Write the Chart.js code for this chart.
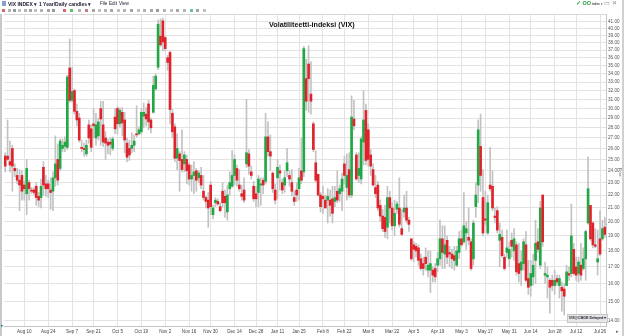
<!DOCTYPE html>
<html><head><meta charset="utf-8">
<script src="https://cdn.jsdelivr.net/npm/chart.js@4.4.0/dist/chart.umd.min.js"></script>
<style>
html,body{margin:0;padding:0;background:#fff;}
#wrap{position:relative;width:624px;height:336px;overflow:hidden;font-family:"Liberation Sans",Arial,sans-serif;background:#fff;}
canvas{position:absolute;left:0;top:0;}
.t{position:absolute;white-space:nowrap;color:#1a1a2e;line-height:1;}
.b{font-weight:bold;}
.ic{position:absolute;width:3px;height:3px;background:#999;}
#title{position:absolute;white-space:nowrap;line-height:1;left:269px;top:21px;font-size:7.2px;font-weight:bold;color:#111;}
#lframe{position:absolute;left:0;top:14px;width:2px;height:322px;background:#c8c8c8;}
#rframe{position:absolute;left:622px;top:0;width:2px;height:336px;background:#d0d0d0;}
#topline{position:absolute;left:4px;top:14px;width:602px;height:1px;background:#d8d8d8;}
#src{position:absolute;left:567px;top:314px;width:39px;height:7px;background:#e6e6e6;border:1px solid #c4c4c4;font-size:3.6px;font-weight:bold;color:#223;line-height:7px;text-align:center;white-space:nowrap;}
#price{position:absolute;left:621px;top:168px;font-size:3.8px;line-height:1;color:#555;transform:rotate(90deg);transform-origin:left top;white-space:nowrap;}
</style></head><body>
<div id="wrap">
<canvas id="c" width="624" height="336"></canvas>
<div id="lframe"></div><div id="rframe"></div><div id="topline"></div>
<div class="t" style="left:2px;top:1px;width:4px;height:5px;background:#8aa0c8;"></div>
<div class="t b" style="left:8px;top:1.5px;font-size:5px;">VIX INDEX ▾</div>
<div class="t b" style="left:39px;top:1.5px;font-size:5px;">1 Year/Daily candles ▾</div>
<div class="t" style="left:100px;top:1.5px;font-size:4.6px;">File</div>
<div class="t" style="left:109px;top:1.5px;font-size:4.6px;">Edit</div>
<div class="t" style="left:119px;top:1.5px;font-size:4.6px;">View</div>
<div class="t b" style="left:576px;top:1px;font-size:5.5px;color:#2a9a3a;">✓ OO<span style="font-size:3px;color:#444"> index ▾</span></div>
<div class="t" style="left:604px;top:0px;font-size:6px;color:#888;">▭ ✕</div>
<div id="icons"></div>
<div id="title">Volatiliteetti-indeksi (VIX)</div>
<div id="src">VIX@CBOE Delayed ▾</div>
<div id="price">Price</div>
<div class="t" style="left:1px;top:323px;font-size:5px;color:#2a8aa0;">▸</div>
<div class="t" style="left:616px;top:329px;font-size:5px;color:#666;">▸</div>
</div>
<script>
// Trading days shown (category axis)
const dates = ['Jul 29','Jul 30','Jul 31',
'Aug 3','Aug 4','Aug 5','Aug 6','Aug 7','Aug 10','Aug 11','Aug 12','Aug 13','Aug 14','Aug 17','Aug 18','Aug 19','Aug 20','Aug 21','Aug 24','Aug 25','Aug 26','Aug 27','Aug 28','Aug 31',
'Sep 1','Sep 2','Sep 3','Sep 4','Sep 8','Sep 9','Sep 10','Sep 11','Sep 14','Sep 15','Sep 16','Sep 17','Sep 18','Sep 21','Sep 22','Sep 23','Sep 24','Sep 25','Sep 28','Sep 29','Sep 30',
'Oct 1','Oct 2','Oct 5','Oct 6','Oct 7','Oct 8','Oct 9','Oct 12','Oct 13','Oct 14','Oct 15','Oct 16','Oct 19','Oct 20','Oct 21','Oct 22','Oct 23','Oct 26','Oct 27','Oct 28','Oct 29','Oct 30',
'Nov 2','Nov 3','Nov 4','Nov 5','Nov 6','Nov 9','Nov 10','Nov 11','Nov 12','Nov 13','Nov 16','Nov 17','Nov 18','Nov 19','Nov 20','Nov 23','Nov 24','Nov 25','Nov 27','Nov 30',
'Dec 1','Dec 2','Dec 3','Dec 4','Dec 7','Dec 8','Dec 9','Dec 10','Dec 11','Dec 14','Dec 15','Dec 16','Dec 17','Dec 18','Dec 21','Dec 22','Dec 23','Dec 24','Dec 28','Dec 29','Dec 30','Dec 31',
'Jan 4','Jan 5','Jan 6','Jan 7','Jan 8','Jan 11','Jan 12','Jan 13','Jan 14','Jan 15','Jan 19','Jan 20','Jan 21','Jan 22','Jan 25','Jan 26','Jan 27','Jan 28','Jan 29',
'Feb 1','Feb 2','Feb 3','Feb 4','Feb 5','Feb 8','Feb 9','Feb 10','Feb 11','Feb 12','Feb 16','Feb 17','Feb 18','Feb 19','Feb 22','Feb 23','Feb 24','Feb 25','Feb 26',
'Mar 1','Mar 2','Mar 3','Mar 4','Mar 5','Mar 8','Mar 9','Mar 10','Mar 11','Mar 12','Mar 15','Mar 16','Mar 17','Mar 18','Mar 19','Mar 22','Mar 23','Mar 24','Mar 25','Mar 26','Mar 29','Mar 30','Mar 31',
'Apr 1','Apr 5','Apr 6','Apr 7','Apr 8','Apr 9','Apr 12','Apr 13','Apr 14','Apr 15','Apr 16','Apr 19','Apr 20','Apr 21','Apr 22','Apr 23','Apr 26','Apr 27','Apr 28','Apr 29','Apr 30',
'May 3','May 4','May 5','May 6','May 7','May 10','May 11','May 12','May 13','May 14','May 17','May 18','May 19','May 20','May 21','May 24','May 25','May 26','May 27','May 28',
'Jun 1','Jun 2','Jun 3','Jun 4','Jun 7','Jun 8','Jun 9','Jun 10','Jun 11','Jun 14','Jun 15','Jun 16','Jun 17','Jun 18','Jun 21','Jun 22','Jun 23','Jun 24','Jun 25','Jun 28','Jun 29','Jun 30',
'Jul 1','Jul 2','Jul 6','Jul 7','Jul 8','Jul 9','Jul 12','Jul 13','Jul 14','Jul 15','Jul 16','Jul 19','Jul 20','Jul 21','Jul 22','Jul 23','Jul 26','Jul 27','Jul 28'];

const openV = [25.3,25.3,24.8,
26.0,24.2,23.6,23.2,23.6,22.8,22.1,23.0,22.4,22.4,22.7,21.9,21.8,24.3,22.9,22.9,22.4,22.3,23.4,25.0,24.2,
26.0,26.2,26.1,34.7,30.9,32.0,29.7,29.0,26.1,26.0,25.5,28.3,27.9,28.4,27.0,27.2,30.0,28.3,27.0,26.6,26.6,
26.0,29.1,30.0,28.4,29.6,28.8,26.5,26.0,26.0,26.3,27.4,27.4,27.6,29.2,29.4,30.5,28.8,29.6,32.2,34.8,38.9,41.1,
38.7,36.0,36.7,29.5,28.1,25.1,25.5,25.0,24.6,25.0,24.5,23.3,23.6,24.0,23.4,23.6,22.3,21.8,21.6,22.8,
20.5,21.4,21.5,21.1,22.3,21.9,20.7,22.5,22.7,23.6,24.2,22.8,22.1,22.4,24.6,25.5,23.9,22.7,22.1,22.2,22.8,23.2,
23.1,27.1,25.7,23.8,22.4,23.4,24.0,23.0,22.8,24.0,23.6,23.0,21.8,22.4,22.5,24.0,23.9,33.4,35.2,
31.6,28.4,24.7,23.7,22.0,21.9,21.6,21.6,21.6,21.7,21.5,22.3,22.1,22.3,24.6,22.6,24.1,22.0,28.9,
25.4,23.6,23.3,26.6,29.8,27.8,25.4,24.1,22.6,22.8,21.2,20.4,20.3,19.6,21.8,21.0,19.7,20.9,21.0,19.5,20.7,21.0,20.1,
18.8,18.4,18.3,18.2,17.5,17.2,17.6,16.8,16.8,16.8,16.9,17.1,17.5,18.8,17.8,18.7,17.9,17.8,17.7,17.1,17.9,
18.8,18.6,19.2,18.9,18.6,17.5,21.1,22.8,26.2,21.8,20.2,19.2,22.8,22.7,20.4,20.8,18.7,18.9,17.6,17.9,
17.5,18.7,18.0,18.4,17.2,16.8,17.2,18.4,16.3,15.9,16.4,17.4,18.6,17.1,22.0,16.5,16.4,16.2,16.2,15.9,16.3,15.9,
15.8,15.7,15.9,16.6,16.6,18.1,17.0,16.6,17.1,16.9,17.5,19.9,21.2,19.9,18.4,17.3,18.8,18.8,19.6];

const highV = [25.6,28.8,26.7,
26.3,24.6,24.2,24.1,24.0,23.1,25.0,23.2,22.6,22.6,23.0,22.2,23.3,24.8,23.6,23.2,23.4,23.9,27.2,26.4,26.9,
26.9,27.1,33.8,38.5,34.8,32.2,30.5,29.5,26.8,26.5,26.8,28.8,28.3,30.0,29.5,29.0,30.8,30.8,27.6,26.9,27.0,
27.1,30.0,30.2,30.1,30.1,29.6,27.0,26.8,27.5,27.3,30.3,28.1,30.0,30.6,30.1,30.9,29.0,33.7,34.0,41.2,41.4,41.5,
38.9,36.3,36.9,29.9,28.4,27.4,25.7,27.8,25.7,25.4,24.7,24.5,24.8,24.2,24.0,24.3,23.6,21.9,22.2,23.1,
21.2,21.8,21.7,21.4,23.0,22.4,22.8,23.9,25.8,25.4,24.5,24.1,22.8,23.4,31.0,25.9,24.4,23.1,22.7,23.6,23.4,23.4,
29.5,28.6,27.3,23.9,22.9,25.0,24.5,23.3,24.0,26.0,24.0,24.1,22.3,23.0,24.2,27.0,37.5,35.8,37.6,
35.5,28.6,25.8,23.7,22.2,22.7,22.0,22.5,22.4,22.7,22.7,24.0,22.8,23.8,25.3,25.5,25.6,31.4,30.9,
25.6,25.6,27.1,32.0,30.5,28.4,25.9,24.6,23.6,23.1,21.6,20.9,21.2,22.7,22.3,21.4,21.6,21.5,23.4,20.9,22.0,22.3,20.3,
18.8,18.6,18.5,18.4,17.8,17.6,18.2,18.0,18.0,17.0,17.2,17.9,20.1,19.7,19.7,19.0,18.3,18.1,18.3,18.3,19.3,
19.4,22.2,20.0,21.0,18.8,20.1,23.0,28.8,29.4,24.1,22.3,22.0,26.1,24.0,21.0,21.1,19.9,19.4,17.8,19.4,
18.6,19.2,19.5,18.6,18.5,18.0,18.8,19.3,17.4,17.4,17.8,20.1,19.5,21.5,22.0,17.3,17.0,16.3,16.5,16.8,16.5,16.5,
16.1,16.0,17.1,17.0,21.3,18.5,17.6,17.6,18.5,18.2,19.4,25.2,21.2,20.0,19.5,19.4,20.8,20.1,20.3];

const lowV = [23.9,24.9,23.9,
22.3,23.5,22.9,20.8,21.6,21.6,20.5,21.6,22.1,22.0,21.2,21.1,21.0,22.0,21.9,21.8,20.9,20.8,22.7,22.8,24.0,
25.7,25.7,25.9,30.7,30.7,29.4,28.2,26.6,25.7,25.3,25.3,26.5,25.7,27.0,26.3,26.8,26.3,26.2,25.0,25.5,25.4,
25.8,27.4,27.4,28.1,27.2,25.6,24.8,24.9,25.6,25.7,27.1,27.3,27.4,28.0,28.2,27.8,27.5,29.5,32.0,34.5,37.5,36.9,
36.9,34.4,28.4,27.0,24.8,24.1,22.3,23.9,23.9,22.9,22.8,22.3,22.1,22.3,23.0,22.5,21.6,21.0,19.6,20.5,
20.2,21.1,21.2,20.7,21.1,20.3,20.1,22.0,22.6,22.8,22.7,22.3,21.6,21.4,24.3,23.7,23.3,21.5,21.1,21.1,21.2,22.1,
22.9,25.3,24.0,22.2,21.3,21.7,22.4,22.1,22.2,23.5,22.7,21.9,21.2,21.5,21.6,22.9,23.5,29.8,29.6,
29.4,25.7,23.0,21.9,20.7,20.6,21.0,19.9,20.4,19.9,21.1,21.4,21.5,20.8,22.9,21.6,21.8,21.8,27.8,
23.2,23.0,22.9,24.5,24.5,24.4,23.6,22.7,21.8,20.8,20.0,19.3,18.9,18.8,19.9,19.4,19.0,20.6,19.6,19.0,20.3,19.9,19.3,
17.4,17.3,17.6,17.1,16.8,16.5,16.8,16.4,15.5,16.1,16.1,16.7,17.1,16.9,16.9,17.2,17.0,16.9,16.8,17.0,17.5,
18.3,18.5,18.1,18.4,16.8,17.1,20.3,21.4,22.3,19.0,19.8,19.1,22.3,20.8,19.9,19.2,17.0,17.6,16.8,17.6,
17.0,17.6,17.4,16.5,16.1,15.9,16.8,16.1,15.4,15.3,15.9,16.0,17.9,16.9,18.3,16.0,15.2,14.4,15.6,15.4,15.9,15.2,
14.5,14.3,15.9,16.2,16.4,16.5,16.2,16.1,16.2,16.8,16.2,19.8,18.7,18.2,18.2,16.5,17.7,18.7,18.9];

const closeV = [24.4,25.0,24.5,
24.4,24.0,23.2,22.8,22.3,22.5,24.2,22.5,22.3,22.2,21.8,21.6,22.7,22.8,22.5,22.5,22.2,23.4,24.6,23.2,26.7,
26.3,26.6,33.6,30.9,31.9,29.7,28.8,26.8,26.0,25.9,26.3,27.0,26.1,28.2,28.3,28.6,28.9,26.6,26.5,26.3,26.4,
26.9,27.9,28.4,29.8,28.5,26.8,25.2,25.4,26.3,26.7,27.3,27.8,29.6,29.6,28.9,28.6,28.0,32.6,33.7,40.6,37.7,38.1,
37.2,35.4,29.9,27.6,25.1,26.0,24.9,24.1,25.4,24.0,23.3,23.6,23.9,23.2,23.8,22.8,21.8,21.5,21.0,21.1,
21.0,21.6,21.3,20.8,21.4,21.4,22.0,23.0,23.6,25.0,23.2,22.5,21.9,21.6,25.6,24.4,23.6,21.7,21.7,23.3,22.9,22.8,
27.1,25.7,25.3,22.5,21.6,24.3,23.8,22.4,23.4,24.7,23.3,22.3,21.5,22.0,23.4,23.2,37.2,30.8,33.4,
30.8,25.9,23.2,22.0,21.1,21.7,21.0,21.9,21.2,20.6,21.8,21.6,22.5,23.3,23.6,23.6,22.0,29.1,28.2,
23.3,24.2,26.9,28.8,24.9,25.0,24.4,22.8,22.1,21.0,20.4,19.5,19.3,21.8,21.0,19.7,20.6,21.3,19.8,19.1,21.0,20.1,19.8,
17.5,18.1,18.0,17.4,16.9,16.9,17.2,17.1,17.2,16.5,16.4,17.5,18.8,17.9,18.4,17.6,17.8,17.5,17.4,18.0,18.8,
18.4,19.7,19.5,18.7,16.9,19.9,22.0,27.8,23.6,19.2,20.1,21.4,22.5,21.0,20.3,19.4,19.1,17.7,16.9,18.2,
18.1,18.3,18.8,16.7,16.6,17.3,18.6,16.2,15.8,16.6,17.1,18.5,18.1,21.0,18.6,16.6,16.5,15.8,15.9,16.2,16.1,16.3,
15.6,15.3,16.7,16.5,19.0,16.6,16.5,17.3,16.5,17.5,19.3,22.5,18.8,18.4,18.3,17.5,17.8,19.5,19.1];

const yTicks = [14,15,16,17,18,19,20,21,22,23,24,25,26,27,28,29,30,31,32,33,34,35,36,37,38,39,40,41];
const tickDays = ['Aug 10','Aug 24','Sep 8','Sep 21','Oct 5','Oct 19','Nov 2','Nov 16','Nov 30','Dec 14','Dec 28','Jan 11','Jan 25','Feb 8','Feb 22','Mar 8','Mar 22','Apr 5','Apr 19','May 3','May 17','Jun 1','Jun 14','Jun 28','Jul 12','Jul 26'];
const tickLabels = ['Aug 10','Aug 24','Sep 7','Sep 21','Oct 5','Oct 19','Nov 2','Nov 16','Nov 30','Dec 14','Dec 28','Jan 11','Jan 25','Feb 8','Feb 22','Mar 8','Mar 22','Apr 5','Apr 19','May 3','May 17','May 31','Jun 14','Jun 28','Jul 12','Jul 26'];

// toolbar icons (decorative)
(function(){
  const cols=['#c33','#999','#777','#aaa','#999','#888','#aaa','#999','#888','#777','#c33','#3a3','#999','#a55','#888','#aaa','#999','#888','#aaa','#999','#888','#aaa','#999','#888','#777','#999','#aaa','#888','#999','#3a7','#888','#aaa'];
  const xs=[2,8,13,18,24,29,34,40,47,52,63,70,78,85,92,98,104,110,117,123,130,137,143,150,156,163,170,176,183,190,196,203];
  const box=document.getElementById('icons');
  xs.forEach((x,i)=>{const d=document.createElement('div');d.className='ic';d.style.left=x+'px';d.style.top='8.5px';d.style.background=cols[i%cols.length];d.style.opacity='0.75';box.appendChild(d);});
})();

const wickData = dates.map((d,i)=>[lowV[i], highV[i]]);
const bodyData = dates.map((d,i)=>[openV[i], closeV[i]]);
const bodyColors = dates.map((d,i)=> closeV[i] >= openV[i] ? '#1fa843' : '#e0232b');

new Chart(document.getElementById('c'), {
  type:'bar',
  data:{labels:dates, datasets:[
    {label:'Body', data:bodyData, backgroundColor:bodyColors, barThickness:2, grouped:false, order:0, borderWidth:0},
    {label:'Range', data:wickData, backgroundColor:'#c2c2c2', barThickness:1, grouped:false, order:1, borderWidth:0}
  ]},
  options:{
    responsive:false, animation:false, devicePixelRatio:1,
    layout:{padding:{left:4, top:14, right:0, bottom:0}},
    plugins:{legend:{display:false}, tooltip:{enabled:false}, title:{display:false}},
    scales:{
      x:{
        type:'category', offset:true,
        grid:{offset:false, color:'#e3e3e3', lineWidth:1, drawTicks:false},
        border:{display:true, color:'#c4c4c4'},
        ticks:{autoSkip:false, maxRotation:0, minRotation:0, padding:3,
          font:{size:4.6, family:'"Liberation Sans", Arial, sans-serif'}, color:'#444',
          callback:function(v,i){ const k = tickDays.indexOf(dates[i]); return k>=0 ? tickLabels[k] : null; }},
        afterFit:function(s){ s.height = 10; }
      },
      y:{
        type:'logarithmic', position:'right', min:13.75, max:42.12, bounds:'data',
        afterBuildTicks:function(s){ s.ticks = yTicks.map(v=>({value:v})); },
        grid:{color:'#e3e3e3', lineWidth:1, drawTicks:false},
        border:{display:true, color:'#c4c4c4'},
        ticks:{autoSkip:false, padding:2, font:{size:4.6, family:'"Liberation Sans", Arial, sans-serif'}, color:'#555',
          callback:function(v){ return Number(v).toFixed(2); }},
        afterFit:function(s){ s.width = 18; }
      }
    }
  }
});
</script>
</body></html>
